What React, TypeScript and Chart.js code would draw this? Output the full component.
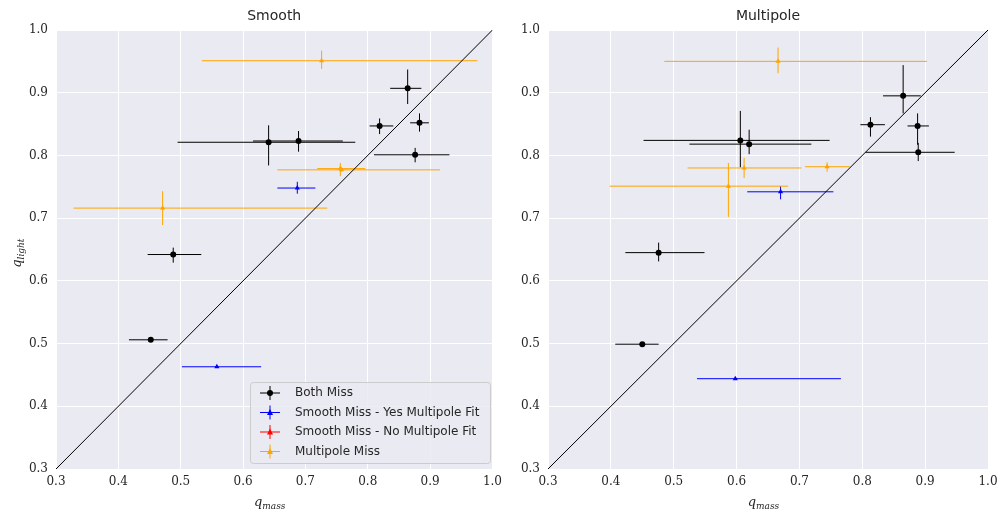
import React, { useEffect, useRef } from "react";
import { Chart, registerables } from "chart.js";
Chart.register(...registerables);

// [x, y, xLo, xHi, yLo, yHi]
type P = number[];
const smoothBoth: P[] = [
  [0.864, 0.907, 0.836, 0.886, 0.882, 0.937],
  [0.819, 0.847, 0.803, 0.841, 0.834, 0.859],
  [0.883, 0.852, 0.868, 0.898, 0.838, 0.867],
  [0.641, 0.821, 0.495, 0.780, 0.784, 0.848],
  [0.689, 0.823, 0.616, 0.760, 0.806, 0.839],
  [0.876, 0.801, 0.810, 0.931, 0.789, 0.812],
  [0.488, 0.642, 0.447, 0.533, 0.629, 0.653],
  [0.452, 0.506, 0.417, 0.479, 0.504, 0.508],
];
const smoothBlue: P[] = [
  [0.687, 0.748, 0.655, 0.716, 0.739, 0.758],
  [0.558, 0.463, 0.502, 0.629, 0.461, 0.465],
];
const smoothOrange: P[] = [
  [0.726, 0.951, 0.534, 0.976, 0.938, 0.967],
  [0.756, 0.779, 0.719, 0.796, 0.767, 0.788],
  [0.758, 0.777, 0.655, 0.916, 0.774, 0.780],
  [0.471, 0.716, 0.328, 0.735, 0.689, 0.743],
];
const multiBoth: P[] = [
  [0.865, 0.895, 0.833, 0.893, 0.867, 0.944],
  [0.813, 0.849, 0.797, 0.836, 0.830, 0.861],
  [0.888, 0.847, 0.872, 0.906, 0.817, 0.867],
  [0.606, 0.824, 0.452, 0.748, 0.781, 0.871],
  [0.620, 0.818, 0.525, 0.719, 0.802, 0.841],
  [0.889, 0.805, 0.805, 0.947, 0.791, 0.820],
  [0.476, 0.645, 0.423, 0.549, 0.631, 0.661],
  [0.450, 0.499, 0.407, 0.476, 0.497, 0.501],
];
const multiBlue: P[] = [
  [0.670, 0.742, 0.617, 0.754, 0.730, 0.751],
  [0.598, 0.444, 0.537, 0.766, 0.442, 0.446],
];
const multiOrange: P[] = [
  [0.666, 0.950, 0.485, 0.903, 0.931, 0.972],
  [0.612, 0.780, 0.522, 0.703, 0.764, 0.796],
  [0.744, 0.782, 0.709, 0.780, 0.774, 0.789],
  [0.587, 0.751, 0.398, 0.682, 0.702, 0.788],
];
const ticks = [0.3, 0.4, 0.5, 0.6, 0.7, 0.8, 0.9, 1.0];
const legendLabels = ["Both Miss", "Smooth Miss - Yes Multipole Fit", "Smooth Miss - No Multipole Fit", "Multipole Miss"];
const legendColors = ["black", "blue", "red", "orange"];

function makeConfig(title: string, groups: { pts: P[]; color: string; shape: string }[], yAxisW: number, padRight: number, showYLabel: boolean, showLegend: boolean): any {
  const datasets: any[] = [
    { type: "line", data: [{ x: 0.3, y: 0.3 }, { x: 1, y: 1 }], borderColor: "black", borderWidth: 1, pointRadius: 0, order: 5 },
  ];
  groups.forEach((g) =>
    datasets.push({
      type: "scatter",
      data: g.pts.map((p) => ({ x: p[0], y: p[1], e: p })),
      backgroundColor: g.color,
      borderColor: g.color,
      pointStyle: g.shape,
      pointRadius: 3,
      borderWidth: 0,
    })
  );
  const errPlugin = {
    id: "err",
    beforeDatasetsDraw(chart: any) {
      const { ctx, scales } = chart;
      const xs = scales.x, ys = scales.y;
      ctx.save();
      ctx.lineWidth = 1;
      chart.data.datasets.forEach((ds: any) => {
        if (ds.type !== "scatter") return;
        ctx.strokeStyle = ds.borderColor;
        ds.data.forEach((d: any) => {
          const e = d.e;
          const px = xs.getPixelForValue(e[0]), py = ys.getPixelForValue(e[1]);
          ctx.beginPath();
          ctx.moveTo(xs.getPixelForValue(e[2]), py);
          ctx.lineTo(xs.getPixelForValue(e[3]), py);
          ctx.moveTo(px, ys.getPixelForValue(e[4]));
          ctx.lineTo(px, ys.getPixelForValue(e[5]));
          ctx.stroke();
        });
      });
      ctx.restore();
    },
  };
  const decoPlugin = {
    id: "deco",
    beforeDraw(chart: any) {
      const { ctx, chartArea: a } = chart;
      ctx.save();
      ctx.fillStyle = "#EAEAF2";
      ctx.fillRect(a.left, a.top, a.right - a.left, a.bottom - a.top);
      ctx.restore();
    },
    afterDraw(chart: any) {
      const { ctx, chartArea: a } = chart;
      ctx.save();
      ctx.fillStyle = "#262626";
      ctx.font = "14px 'DejaVu Sans'";
      ctx.textAlign = "center";
      ctx.textBaseline = "middle";
      ctx.fillText(title, (a.left + a.right) / 2, 16);
      const cx = (a.left + a.right) / 2;
      ctx.font = "italic 13px 'DejaVu Serif'";
      ctx.textAlign = "right";
      ctx.fillText("q", cx - 12, a.bottom + 34);
      ctx.font = "italic 9px 'DejaVu Serif'";
      ctx.textAlign = "left";
      ctx.fillText("mass", cx - 12, a.bottom + 38);
      if (showYLabel) {
        ctx.save();
        ctx.translate(18, (a.top + a.bottom) / 2);
        ctx.rotate(-Math.PI / 2);
        ctx.font = "italic 13px 'DejaVu Serif'";
        ctx.textAlign = "right";
        ctx.fillText("q", -10, 0);
        ctx.font = "italic 9px 'DejaVu Serif'";
        ctx.textAlign = "left";
        ctx.fillText("light", -10, 4);
        ctx.restore();
      }
      if (showLegend) {
        const lx = 250, ly = 382, lw = 240, lh = 81;
        ctx.fillStyle = "rgba(234,234,242,0.85)";
        ctx.strokeStyle = "#cccccc";
        ctx.lineWidth = 1;
        ctx.beginPath();
        (ctx as any).roundRect(lx + 0.5, ly + 0.5, lw, lh, 3);
        ctx.fill();
        ctx.stroke();
        legendLabels.forEach((l, i) => {
          const yy = ly + 11 + i * 19.5;
          const mx = lx + 20;
          ctx.strokeStyle = legendColors[i];
          ctx.fillStyle = legendColors[i];
          ctx.beginPath();
          ctx.moveTo(mx - 10, yy);
          ctx.lineTo(mx + 10, yy);
          ctx.moveTo(mx, yy - 7);
          ctx.lineTo(mx, yy + 7);
          ctx.stroke();
          ctx.beginPath();
          if (i === 0) ctx.arc(mx, yy, 3, 0, Math.PI * 2);
          else {
            ctx.moveTo(mx, yy - 3.5);
            ctx.lineTo(mx + 3, yy + 2.5);
            ctx.lineTo(mx - 3, yy + 2.5);
          }
          ctx.fill();
          ctx.fillStyle = "#262626";
          ctx.font = "12px 'DejaVu Sans'";
          ctx.textAlign = "left";
          ctx.textBaseline = "middle";
          ctx.fillText(l, lx + 45, yy);
        });
      }
      ctx.restore();
    },
  };
  const grid = { color: "#ffffff", lineWidth: 1, drawTicks: false };
  const tickFont = { family: "'DejaVu Serif'", size: 12 };
  return {
    data: { datasets },
    plugins: [decoPlugin, errPlugin],
    options: {
      animation: false,
      responsive: false,
      layout: { padding: { top: 30, right: padRight, left: 0, bottom: 0 } },
      plugins: { legend: { display: false }, tooltip: { enabled: false }, title: { display: false } },
      scales: {
        x: {
          type: "linear", min: 0.3, max: 1.0,
          afterBuildTicks: (s: any) => { s.ticks = ticks.map((v) => ({ value: v })); },
          afterFit: (s: any) => { s.height = 51; },
          grid, border: { display: false },
          ticks: { font: tickFont, color: "#262626", padding: 6, callback: (v: any) => Number(v).toFixed(1), maxRotation: 0 },
        },
        y: {
          type: "linear", min: 0.3, max: 1.0,
          afterBuildTicks: (s: any) => { s.ticks = ticks.map((v) => ({ value: v })); },
          afterFit: (s: any) => { s.width = yAxisW; },
          grid, border: { display: false },
          ticks: { font: tickFont, color: "#262626", padding: 8, callback: (v: any) => Number(v).toFixed(1) },
        },
      },
    },
  };
}

function ChartBox(props: { cfg: any; left: number; width: number }) {
  const ref = useRef<HTMLCanvasElement>(null);
  useEffect(() => {
    const c = new Chart(ref.current as HTMLCanvasElement, props.cfg);
    return () => c.destroy();
  }, []);
  return (
    <canvas ref={ref} width={props.width} height={520}
      style={{ position: "absolute", left: props.left, top: 0, width: props.width, height: 520 }} />
  );
}

export default function App() {
  const left = makeConfig("Smooth", [
    { pts: smoothBoth, color: "black", shape: "circle" },
    { pts: smoothBlue, color: "blue", shape: "triangle" },
    { pts: smoothOrange, color: "orange", shape: "triangle" },
  ], 56, 0, true, true);
  const right = makeConfig("Multipole", [
    { pts: multiBoth, color: "black", shape: "circle" },
    { pts: multiBlue, color: "blue", shape: "triangle" },
    { pts: multiOrange, color: "orange", shape: "triangle" },
  ], 48, 19, false, false);
  return (
    <div style={{ position: "absolute", left: 0, top: 0, width: 1007, height: 520, background: "white" }}>
      <ChartBox cfg={left} left={0} width={508} />
      <ChartBox cfg={right} left={500} width={507} />
    </div>
  );
}
